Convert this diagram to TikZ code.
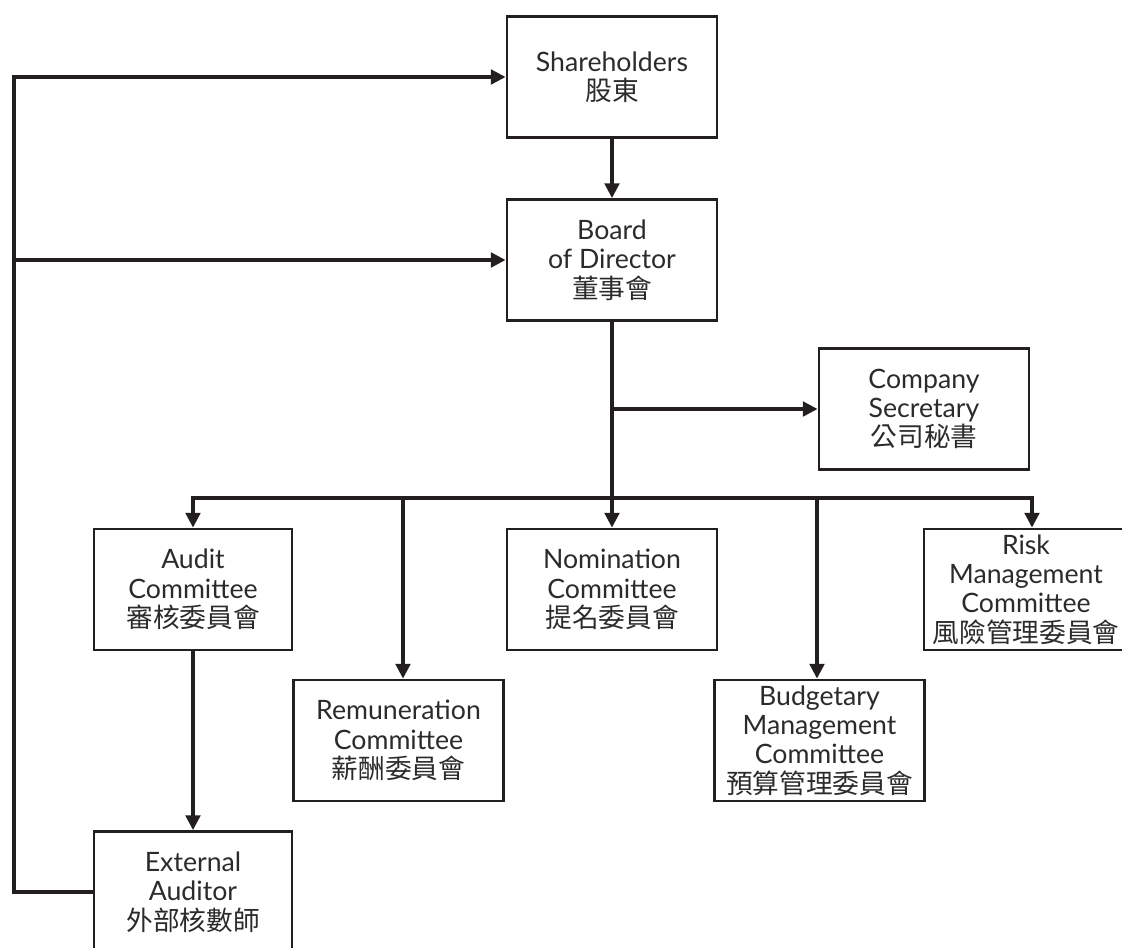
\documentclass[tikz,border=0pt]{standalone}
\usepackage{fontspec}
\setmainfont{Lato}
\newfontfamily\cjk{Noto Sans CJK TC}
\usetikzlibrary{arrows.meta}
\definecolor{ink}{HTML}{231F20}
\definecolor{txt}{HTML}{2B2B2B}
\tikzset{
  box/.style={draw=ink, line width=2.2pt, minimum width=157.5pt, minimum height=90.75pt,
    inner sep=0pt, align=center, text=txt, font=\fontsize{20}{22}\selectfont},
  narrow/.style={minimum width=148.5pt},
  link/.style={draw=ink, line width=2.3pt},
  arr/.style={link, -{Triangle[length=11pt,width=11pt]}},
  arrboth/.style={link, {Triangle[length=11pt,width=11pt]}-{Triangle[length=11pt,width=11pt]}}
}
\begin{document}
\begin{tikzpicture}[x=0.75pt, y=-0.75pt]
\useasboundingbox (0,0) rectangle (1122,948);
\clip (0,0) rectangle (1122,948);
\fill[white] (0,0) rectangle (1122,948);

\node[box] (sh) at (612,77) {Shareholders\\{\cjk 股東}};
\node[box] (bd) at (612,260) {Board\\of Director\\{\cjk 董事會}};
\node[box] (cs) at (924,409) {Company\\Secretary\\{\cjk 公司秘書}};
\node[box, narrow] (au) at (193,589.5) {Audit\\Committee\\{\cjk 審核委員會}};
\node[box] (nm) at (612,589.5) {Nomination\\Committee\\{\cjk 提名委員會}};
\node[box, minimum width=153pt] (rk) at (1026,589.5) {Risk\\Management\\Committee\\{\cjk 風險管理委員會}};
\node[box] (rm) at (398.5,740.5) {Remuneration\\Committee\\{\cjk 薪酬委員會}};
\node[box] (bg) at (819.5,740.5) {Budgetary\\Management\\Committee\\{\cjk 預算管理委員會}};
\node[box, narrow] (ea) at (193,892) {External\\Auditor\\{\cjk 外部核數師}};

% coordinates
\coordinate (jcs) at (612,409);
\coordinate (bl) at (193,498);
\coordinate (br) at (1032,498);
\coordinate (jrm) at (403,498);
\coordinate (jbg) at (817,498);
\coordinate (lb) at (14,892);
\coordinate (lt) at (14,77);
\coordinate (lm) at (14,260);

% connectors
\draw[arr] (sh.south) -- (bd.north);
\draw[arr] (bd.south) -- (nm.north);
\draw[arr] (jcs) -- (cs.west);
\draw[arrboth, line join=miter] (au.north) -- (bl) -- (br) -- (br |- rk.north);
\draw[arr] (jrm) -- (jrm |- rm.north);
\draw[arr] (jbg) -- (jbg |- bg.north);
\draw[arr] (au.south) -- (ea.north);
\draw[arr, line join=miter] (ea.west) -- (lb) -- (lt) -- (sh.west);
\draw[arr] (lm) -- (bd.west);
\end{tikzpicture}
\end{document}
